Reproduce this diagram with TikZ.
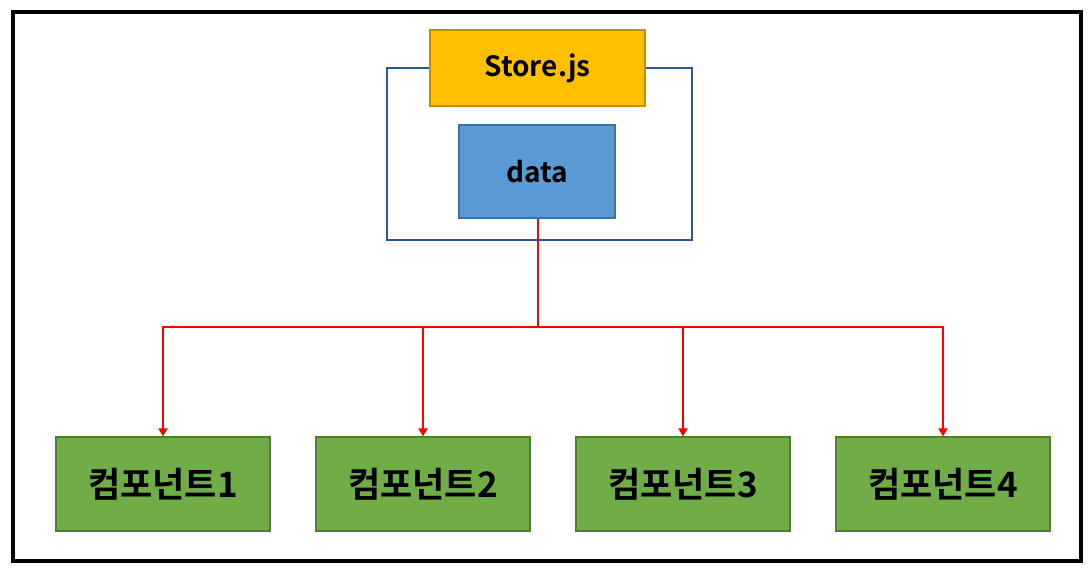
\documentclass[tikz,border=0pt]{standalone}
\usepackage{fontspec}
\setmainfont{Noto Sans CJK KR}[BoldFont={* Bold}]
\usetikzlibrary{arrows.meta}
\definecolor{storefill}{HTML}{FFC000}
\definecolor{storedraw}{HTML}{BF9000}
\definecolor{datafill}{HTML}{5B9BD5}
\definecolor{datadraw}{HTML}{41719C}
\definecolor{compfill}{HTML}{70AD47}
\definecolor{compdraw}{HTML}{507E32}
\definecolor{framedraw}{HTML}{2F5597}
\tikzset{
  box/.style={draw, line width=1.2pt, inner sep=0pt, font=\bfseries\fontsize{28}{32}\selectfont},
  storebox/.style={box, fill=storefill, draw=storedraw, minimum width=215pt, minimum height=76pt},
  databox/.style={box, fill=datafill, draw=datadraw, minimum width=156pt, minimum height=93pt},
  compbox/.style={box, fill=compfill, draw=compdraw, minimum width=214pt, minimum height=94pt, font=\bfseries\fontsize{35}{40}\selectfont},
  link/.style={draw=red, line width=2.6pt},
  arrowlink/.style={link, -{Triangle[length=8pt,width=9pt]}}
}
\begin{document}
\begin{tikzpicture}[x=1pt,y=-1pt]
\useasboundingbox (0,0) rectangle (1092,575);
\draw[line width=4pt] (13,12) rectangle (1081,561);
\draw[framedraw, line width=1.5pt] (387,68) rectangle (692,240);
\node[storebox] (store) at (537.5,68) {Store.js};
\node[databox] (data) at (537,171.5) {data};
\node[compbox] (c1) at (163,484) {컴포넌트1};
\node[compbox] (c2) at (423,484) {컴포넌트2};
\node[compbox] (c3) at (683,484) {컴포넌트3};
\node[compbox] (c4) at (943,484) {컴포넌트4};
\coordinate (hub) at (538,327);
\draw[link] (data.south -| hub) -- (hub);
\draw[arrowlink] (hub) -| (c1.north);
\draw[arrowlink] (hub) -| (c2.north);
\draw[arrowlink] (hub) -| (c3.north);
\draw[arrowlink] (hub) -| (c4.north);
\end{tikzpicture}
\end{document}
